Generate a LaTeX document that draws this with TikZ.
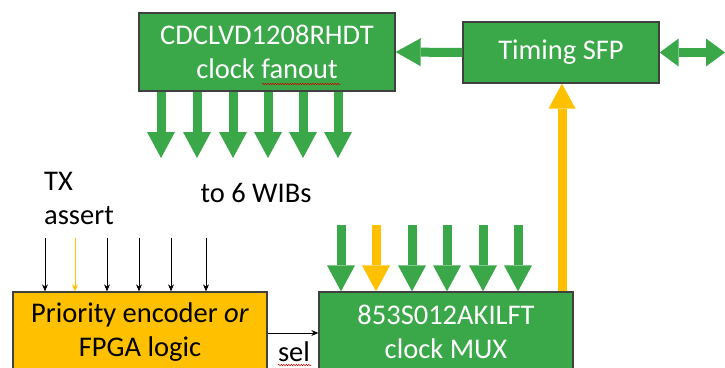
\documentclass[tikz,border=0pt]{standalone}
\usepackage{fontspec}
\setmainfont{Carlito}
\usetikzlibrary{arrows.meta,decorations.pathmorphing}
\definecolor{boxgreen}{RGB}{58,168,73}
\definecolor{boxgold}{RGB}{255,192,0}
\definecolor{boxedge}{RGB}{64,64,64}
\tikzset{
  x=1pt,y=-1pt,
  every node/.style={font=\fontsize{28.5}{34}\selectfont},
  gbox/.style={draw=boxedge,line width=1.3pt,fill=boxgreen,text=white,align=center,inner sep=0pt},
  ybox/.style={draw=boxedge,line width=1.3pt,fill=boxgold,text=black,align=center,inner sep=0pt},
  blockdown/.style={line width=9pt,-{Triangle[width=28pt,length=26pt,line width=0pt]}},
  blockdbl/.style={line width=9pt,{Triangle[width=28pt,length=19pt,line width=0pt]}-{Triangle[width=28pt,length=19pt,line width=0pt]}},
  thinarr/.style={line width=0.9pt,-{Stealth[length=7pt,width=6pt]}},
  squiggle/.style={red!80!black,line width=0.5pt,decorate,decoration={snake,amplitude=0.7pt,segment length=2.5pt}}
}
\begin{document}
\begin{tikzpicture}
\useasboundingbox (0,0) rectangle (725,367);
\clip (0,0) rectangle (725,367);
% boxes
\node[gbox,minimum width=256pt,minimum height=78pt] (fan) at (267,52) {CDCLVD1208RHDT\\clock fanout};
\node[gbox,minimum width=196pt,minimum height=61pt] (sfp) at (561,52.5) {Timing SFP};
\node[ybox,minimum width=254pt,minimum height=80pt] (pri) at (140,332) {Priority encoder \textit{or}\\FPGA logic};
\node[gbox,minimum width=254pt,minimum height=80pt] (mux) at (446,332) {853S012AKILFT\\clock MUX};
% texts
\node[align=left,inner sep=0pt] (tx) at (79,198) {TX\\assert};
\node[inner sep=0pt] (wibs) at (256,193) {to 6 WIBs};
\node[inner sep=0pt,anchor=base] (sel) at (294,361) {sel};
% spell-check marks
\draw[squiggle] (262,84) -- (341,84);
\draw[squiggle] (278,365) -- (311,365);
% SFP -> fanout
\draw[boxgreen,line width=9pt,-{Triangle[width=28pt,length=25pt,line width=0pt]}] (sfp.west) -- (fan.east);
% SFP external bidirectional
\coordinate (ext) at (725,52.5);
\draw[boxgreen,blockdbl] (sfp.east) -- (ext);
% fanout outputs
\foreach \i/\x in {1/161,2/197,3/233,4/268,5/303,6/338}{
  \coordinate (fo\i) at (\x,158);
  \draw[boxgreen,blockdown] (fan.south -| fo\i) -- (fo\i);
}
% MUX inputs
\foreach \i/\x/\c in {1/341/boxgreen,2/376/boxgold,3/412/boxgreen,4/447/boxgreen,5/483/boxgreen,6/518/boxgreen}{
  \coordinate (mi\i) at (\x,225);
  \draw[\c,blockdown] (mi\i) -- (mi\i |- mux.north);
}
% MUX -> SFP
\coordinate (up) at (562,292);
\draw[boxgold,line width=9pt,-{Triangle[width=27pt,length=25pt,line width=0pt]}] (up |- mux.north) -- (up |- sfp.south);
% TX assert lines
\foreach \i/\x/\c in {1/45/black,2/75/boxgold,3/107/black,4/139/black,5/171/black,6/206/black}{
  \coordinate (tx\i) at (\x,238);
  \draw[\c,thinarr] (tx\i) -- (tx\i |- pri.north);
}
% sel
\coordinate (selp) at (267,333);
\draw[thinarr] (pri.east |- selp) -- (mux.west |- selp);
\end{tikzpicture}
\end{document}
